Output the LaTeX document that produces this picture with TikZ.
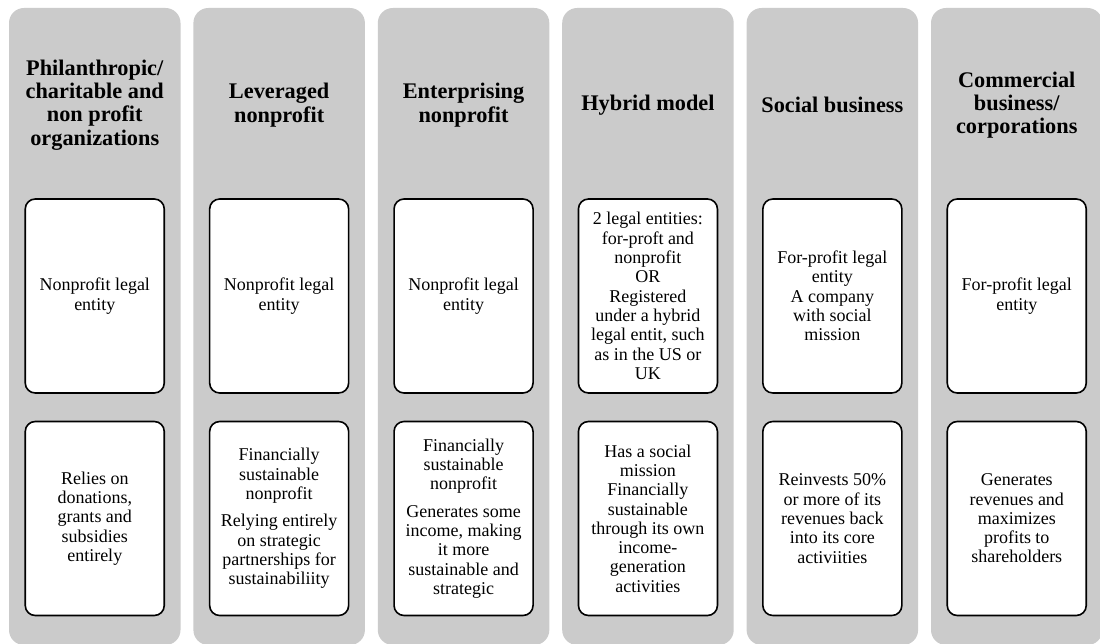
\documentclass[tikz,border=0pt]{standalone}
\usepackage{fontspec}
\setmainfont{Liberation Serif}
\definecolor{lanegray}{HTML}{CBCBCB}
\begin{document}
\begin{tikzpicture}[x=1pt,y=-1pt,
  lane/.style={fill=lanegray,draw=none,rounded corners=15pt,minimum width=171.5pt,minimum height=637pt,inner sep=0pt},
  head/.style={align=center,font=\fontsize{22.3}{23.3}\selectfont\bfseries,inner sep=0pt},
  card/.style={draw=black,line width=1.6pt,fill=white,rounded corners=10pt,minimum width=139pt,minimum height=194pt,inner sep=0pt,align=center,font=\fontsize{18}{19.3}\selectfont}]
\useasboundingbox (0,0) rectangle (1100,644);

% six grey lanes
\foreach \i/\cx in {1/94.75,2/279.15,3/463.55,4/647.95,5/832.35,6/1016.75}{
  \node[lane] (lane\i) at (\cx,326.5) {};
}

% headings
\node[head] (head1) at (lane1.center |- 0,105) {Philanthropic/\\charitable and\\non profit\\organizations};
\node[head] (head2) at (lane2.center |- 0,105) {Leveraged\\nonprofit};
\node[head] (head3) at (lane3.center |- 0,105) {Enterprising\\nonprofit};
\node[head] (head4) at (lane4.center |- 0,105) {Hybrid model};
\node[head] (head5) at (lane5.center |- 0,105) {Social business};
\node[head] (head6) at (lane6.center |- 0,105) {Commercial\\business/\\corporations};

% legal form cards
\node[card] (top1) at (lane1.center |- 0,296) {Nonprofit legal\\entity};
\node[card] (top2) at (lane2.center |- 0,296) {Nonprofit legal\\entity};
\node[card] (top3) at (lane3.center |- 0,296) {Nonprofit legal\\entity};
\node[card] (top4) at (lane4.center |- 0,296) {2 legal entities:\\for-proft and\\nonprofit\\OR\\Registered\\under a hybrid\\legal entit, such\\as in the US or\\UK};
\node[card] (top5) at (lane5.center |- 0,296) {For-profit legal\\entity\\A company\\with social\\mission};
\node[card] (top6) at (lane6.center |- 0,296) {For-profit legal\\entity};

% funding cards
\node[card] (bot1) at (lane1.center |- 0,518.5) {Relies on\\donations,\\grants and\\subsidies\\entirely};
\node[card] (bot2) at (lane2.center |- 0,518.5) {Financially\\sustainable\\nonprofit\\[8pt]Relying entirely\\on strategic\\partnerships for\\sustainabiliity};
\node[card] (bot3) at (lane3.center |- 0,518.5) {Financially\\sustainable\\nonprofit\\[8pt]Generates some\\income, making\\it more\\sustainable and\\strategic};
\node[card] (bot4) at (lane4.center |- 0,518.5) {Has a social\\mission\\Financially\\sustainable\\through its own\\income-\\generation\\activities};
\node[card] (bot5) at (lane5.center |- 0,518.5) {Reinvests 50\%\\or more of its\\revenues back\\into its core\\activiities};
\node[card] (bot6) at (lane6.center |- 0,518.5) {Generates\\revenues and\\maximizes\\profits to\\shareholders};
\end{tikzpicture}
\end{document}
